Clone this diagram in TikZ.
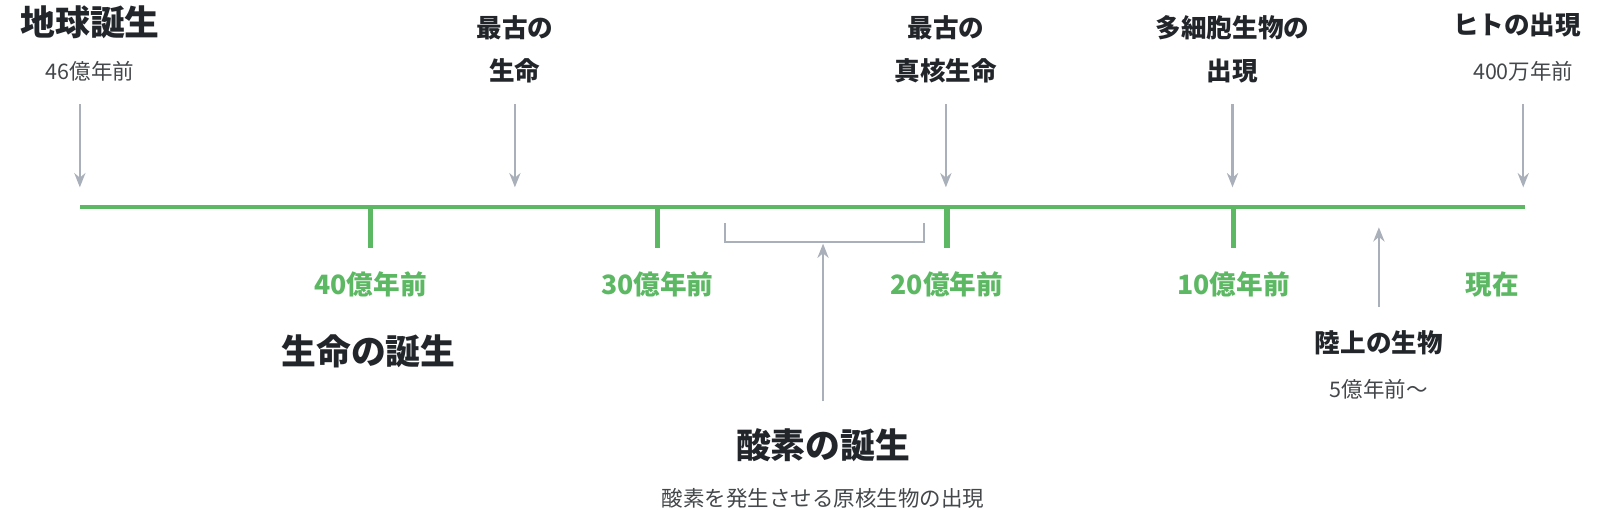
\documentclass[tikz,border=0pt]{standalone}
\usepackage{fontspec}
\setmainfont{Noto Sans CJK JP}
\usetikzlibrary{arrows.meta, positioning, calc}
\definecolor{lineg}{RGB}{92,184,99}
\definecolor{arrg}{RGB}{170,176,186}
\definecolor{ink}{RGB}{34,38,42}
\tikzset{
  big/.style={font=\fontsize{17}{20}\selectfont\bfseries, text=ink, inner sep=0pt},
  mid/.style={font=\fontsize{12.5}{21}\selectfont\bfseries, text=ink, inner sep=0pt, align=center},
  small/.style={font=\fontsize{10.5}{12}\selectfont, text=ink!85, inner sep=0pt},
  year/.style={font=\fontsize{13}{15}\selectfont\bfseries, text=lineg, inner sep=0pt},
  pointer/.style={arrg, line width=1pt, -{Stealth[length=7pt, width=5.5pt]}},
  tick/.style={lineg, line width=2.6pt}
}
\begin{document}
\begin{tikzpicture}[x=0.5pt, y=-0.5pt]
    \useasboundingbox (0,0) rectangle (1563,498);
    % timeline
    \coordinate (t0) at (78,202);
    \coordinate (t1) at (1490,202);
    \draw[lineg, line width=2pt] (t0) -- (t1);
    \foreach \x/\lbl [count=\i] in {362/40億年前, 642/30億年前, 925/20億年前, 1205/10億年前} {
      \coordinate (k\i) at (\x,202);
      \draw[tick] (k\i) -- ++(0,40);
      \node[year] (y\i) at (\x,278) {\lbl};
    }
    \node[year] (y5) at (1458,278) {現在};
    % top events
    \node[big] (earth) at (88,22) {地球誕生};
    \node[small] (earthy) at (88,70) {46億年前};
    \coordinate (ea) at (78,102);
    \coordinate (eb) at (78,183);
    \draw[pointer] (ea) -- (eb);
    \node[mid] (life) at (503,48) {最古の\\生命};
    \coordinate (la) at (503,102);
    \coordinate (lb) at (503,183);
    \draw[pointer] (la) -- (lb);
    \node[mid] (euk) at (924,48) {最古の\\真核生命};
    \coordinate (ua) at (924,102);
    \coordinate (ub) at (924,183);
    \draw[pointer] (ua) -- (ub);
    \node[mid] (multi) at (1204,48) {多細胞生物の\\出現};
    \coordinate (ma) at (1204,102);
    \coordinate (mb) at (1204,183);
    \draw[pointer] (ma) -- (mb);
    \node[mid] (human) at (1482,24) {ヒトの出現};
    \node[small] (humany) at (1488,70) {400万年前};
    \coordinate (ha) at (1488,102);
    \coordinate (hb) at (1488,183);
    \draw[pointer] (ha) -- (hb);
    % below events
    \node[big] (birth) at (360,343) {生命の誕生};
    \coordinate (b0) at (708,218);
    \coordinate (b1) at (903,218);
    \draw[arrg, line width=1pt] (b0) -- ++(0,18) -- ($(b1)+(0,18)$) -- (b1);
    \node[big] (oxy) at (804,435) {酸素の誕生};
    \node[small] (oxyd) at (804,487) {酸素を発生させる原核生物の出現};
    \coordinate (oa) at (804,392);
    \coordinate (ob) at (804,238);
    \draw[pointer] (oa) -- (ob);
    \node[mid] (land) at (1347,335) {陸上の生物};
    \node[small] (landy) at (1347,380) {5億年前〜};
    \coordinate (pa) at (1347,300);
    \coordinate (pb) at (1347,222);
    \draw[pointer] (pa) -- (pb);
\end{tikzpicture}
\end{document}
